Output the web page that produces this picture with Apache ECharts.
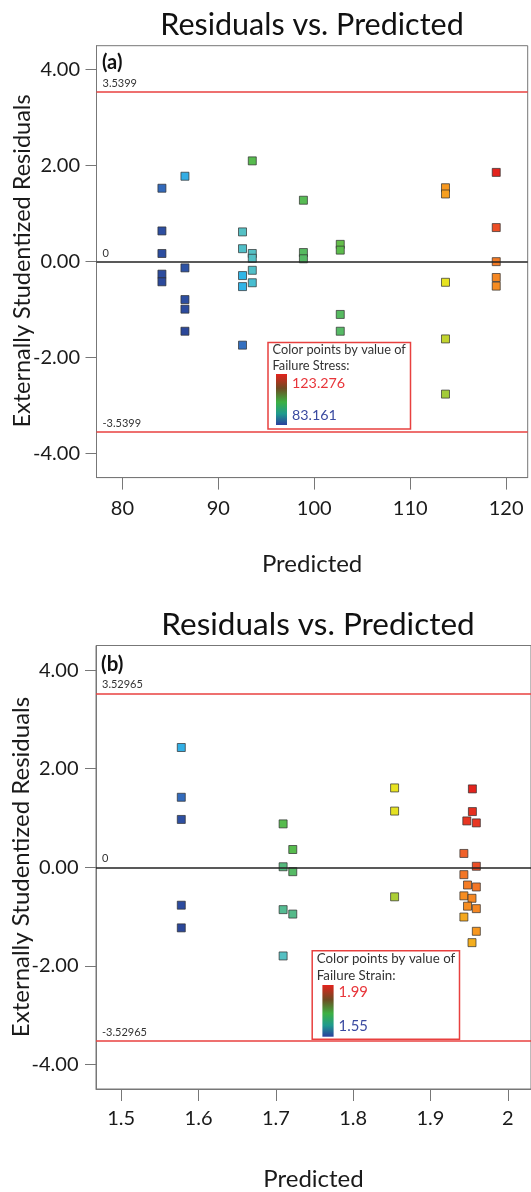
<!DOCTYPE html>
<html><head><meta charset="utf-8">
<script src="https://cdn.jsdelivr.net/npm/echarts@6/dist/echarts.min.js"></script>
<style>html,body{margin:0;padding:0;background:#fff}#c{width:531px;height:1192px}</style>
</head><body><div id="c"></div>
<script>
// ---- tick labels / limits ----
const aXTicks = [80, 90, 100, 110, 120];
const bXTicks = [1.5, 1.6, 1.7, 1.8, 1.9, 2];
const yTicks = [-4, -2, 0, 2, 4];
const aLimit = 3.5399;
const bLimit = 3.52965;
const aColorRange = [83.161, 123.276];
const bColorRange = [1.55, 1.99];

// ---- panel (a): Failure Stress ----
const aPredicted = [84.12,84.12,84.12,84.12,84.12, 86.52,86.52,86.52,86.52,86.52,
  92.52,92.52,92.52,92.52,92.52, 93.54,93.54,93.54,93.54,93.54, 98.87,98.87,98.87,
  102.71,102.71,102.71,102.71, 113.68,113.68,113.68,113.68,113.68, 118.97,118.97,118.97,118.97,118.97];
const aResiduals = [1.53,0.64,0.17,-0.26,-0.42, 1.78,-0.13,-0.79,-0.99,-1.45,
  0.62,0.27,-0.29,-0.52,-1.74, 2.10,0.17,0.07,-0.18,-0.44, 1.28,0.19,0.06,
  0.36,0.24,-1.10,-1.45, 1.54,1.41,-0.43,-1.61,-2.76, 1.86,0.71,0.00,-0.33,-0.51];
const aStress = [87.0,84.0,83.9,83.6,83.4, 92.4,84.5,84.0,83.7,83.2,
  96.5,96.2,93.3,93.0,87.5, 103.2,96.5,96.4,96.2,95.4, 102.8,101.9,101.5,
  103.9,103.5,101.9,101.5, 116.6,116.3,113.2,109.9,107.5, 123.28,120.9,118.3,117.6,117.3];

// ---- panel (b): Failure Strain ----
const bPredicted = [1.5777,1.5777,1.5777,1.5777,1.5777,
  1.7094,1.7094,1.7094,1.7094, 1.7219,1.7219,1.7219,
  1.8536,1.8536,1.8536,
  1.9542,1.9542,1.9470,1.9593,1.9432,1.9593,1.9432,1.9479,1.9593,1.9432,1.9537,1.9479,1.9593,1.9432,1.9593,1.9537];
const bResiduals = [2.43,1.42,0.97,-0.77,-1.23,
  0.88,0.01,-0.86,-1.80, 0.36,-0.09,-0.95,
  1.61,1.14,-0.60,
  1.59,1.13,0.94,0.90,0.28,0.02,-0.15,-0.36,-0.40,-0.58,-0.63,-0.79,-0.84,-1.01,-1.30,-1.53];
const bStrain = [1.653,1.594,1.561,1.556,1.550,
  1.770,1.733,1.722,1.697, 1.770,1.752,1.726,
  1.880,1.876,1.825,
  1.990,1.983,1.979,1.979,1.953,1.964,1.939,1.935,1.939,1.924,1.928,1.924,1.928,1.909,1.917,1.906];

const FONT = 'Lato';
const palette = ['#2b4799','#3162b5','#3b8fd6','#30b6e8','#55c0c4','#55b97c','#57bb4e',
  '#95c83c','#c2d42e','#e8e320','#f7981f','#f0602a','#e3231d'];

function pts(px, py, pc) { return px.map((x, i) => [x, py[i], pc[i]]); }

function xAxisCfg(gi, min, max, ticks, gap, margin) {
  return {
    type: 'value', gridIndex: gi, min: min, max: max,
    splitLine: { show: false },
    axisLine: { show: true, onZero: false, lineStyle: { color: '#777', width: 1 } },
    axisTick: { show: true, length: 12, lineStyle: { color: '#777' }, customValues: ticks },
    axisLabel: { customValues: ticks, margin: margin, fontFamily: FONT, fontSize: 20, color: '#1a1a1a',
      formatter: v => String(v) },
    name: 'Predicted', nameLocation: 'middle', nameGap: gap,
    nameTextStyle: { fontFamily: FONT, fontSize: 24, color: '#1a1a1a' }
  };
}
function yAxisCfg(gi, margin) {
  return {
    type: 'value', gridIndex: gi, min: -4.5, max: 4.5,
    splitLine: { show: false },
    axisLine: { show: true, onZero: false, lineStyle: { color: '#777', width: 1 } },
    axisTick: { show: true, length: 11, lineStyle: { color: '#777' }, customValues: yTicks },
    axisLabel: { customValues: yTicks, margin: margin, fontFamily: FONT, fontSize: 20, color: '#1a1a1a',
      formatter: v => v.toFixed(2) }
  };
}
function limitLines(lim) {
  return {
    silent: true, symbol: 'none', animation: false, precision: 6,
    label: { show: true, position: 'insideStartTop', distance: [6, 3], fontFamily: FONT,
      fontSize: 11, color: '#333', formatter: p => p.name },
    data: [
      { name: String(lim), yAxis: lim, lineStyle: { color: '#e8403f', width: 1.5, type: 'solid' } },
      { name: '0', yAxis: 0, lineStyle: { color: '#222', width: 1.5, type: 'solid' } },
      { name: String(-lim), yAxis: -lim, lineStyle: { color: '#e8403f', width: 1.5, type: 'solid' } }
    ]
  };
}
function scatter(xi, data, lim) {
  return {
    type: 'scatter', xAxisIndex: xi, yAxisIndex: xi, data: data,
    symbol: 'rect', symbolSize: 8,
    itemStyle: { borderColor: 'rgba(45,45,45,0.7)', borderWidth: 1, opacity: 1 },
    markLine: limitLines(lim), z: 2
  };
}
function legendBox(x, y, w, h, title2, hi, lo, fs, barX, barY, barW, barH, l1y, l2y, hiY, loY) {
  const grad = new echarts.graphic.LinearGradient(0, 0, 0, 1, [
    { offset: 0, color: '#e3231d' }, { offset: 0.28, color: '#6e4a22' },
    { offset: 0.55, color: '#3cb043' }, { offset: 0.78, color: '#1f9a8e' },
    { offset: 1, color: '#2a3f9e' }]);
  return [
    { type: 'rect', shape: { x: x, y: y, width: w, height: h },
      style: { fill: 'rgba(255,255,255,0)', stroke: '#e8403f', lineWidth: 1.5 } },
    { type: 'text', x: x + 4.5, y: l1y, style: { text: 'Color points by value of', font: fs + 'px ' + FONT,
      fill: '#333', align: 'left', verticalAlign: 'middle' } },
    { type: 'text', x: x + 4.5, y: l2y, style: { text: title2, font: fs + 'px ' + FONT,
      fill: '#333', align: 'left', verticalAlign: 'middle' } },
    { type: 'rect', shape: { x: barX, y: barY, width: barW, height: barH }, style: { fill: grad } },
    { type: 'text', x: barX + barW + 5, y: hiY, style: { text: hi, font: (fs + 1.5) + 'px ' + FONT,
      fill: '#e8353a', align: 'left', verticalAlign: 'middle' } },
    { type: 'text', x: barX + barW + 5, y: loY, style: { text: lo, font: (fs + 1.5) + 'px ' + FONT,
      fill: '#3a4aa0', align: 'left', verticalAlign: 'middle' } }
  ];
}

const chart = echarts.init(document.getElementById('c'), null, { renderer: 'canvas' });
const graphics = [
  { type: 'text', x: 312, y: 25, style: { text: 'Residuals vs. Predicted', font: '30.5px ' + FONT,
    fill: '#111', align: 'center', verticalAlign: 'middle' } },
  { type: 'text', x: 318, y: 625, style: { text: 'Residuals vs. Predicted', font: '31.5px ' + FONT,
    fill: '#111', align: 'center', verticalAlign: 'middle' } },
  { type: 'text', x: 22, y: 261, rotation: Math.PI / 2, style: { text: 'Externally Studentized Residuals',
    font: '23.5px ' + FONT, fill: '#1a1a1a', align: 'center', verticalAlign: 'middle' } },
  { type: 'text', x: 21, y: 867, rotation: Math.PI / 2, style: { text: 'Externally Studentized Residuals',
    font: '24px ' + FONT, fill: '#1a1a1a', align: 'center', verticalAlign: 'middle' } },
  { type: 'text', x: 102, y: 63, style: { text: '(a)', font: 'bold 20px ' + FONT, fill: '#111',
    align: 'left', verticalAlign: 'middle' } },
  { type: 'text', x: 101, y: 664, style: { text: '(b)', font: 'bold 20.5px ' + FONT, fill: '#111',
    align: 'left', verticalAlign: 'middle' } }
].concat(
  legendBox(268, 342.5, 142.5, 86.5, 'Failure Stress:', '123.276', '83.161', 12.8, 276, 374, 11, 51, 350, 365.5, 383, 415.5),
  legendBox(312.2, 950.7, 147.3, 88.6, 'Failure Strain:', '1.99', '1.55', 13.3, 322.4, 985, 11.2, 51.7, 959, 975.7, 992.7, 1026.7)
);

chart.setOption({
  animation: false,
  backgroundColor: '#fff',
  grid: [
    { left: 96.5, top: 45.7, width: 431.2, height: 431.9, show: true, borderColor: '#777', borderWidth: 1 },
    { left: 96, top: 645.5, width: 443.7, height: 444, show: true, borderColor: '#777', borderWidth: 1 }
  ],
  xAxis: [xAxisCfg(0, 77.3, 122.25, aXTicks, 75, 21), xAxisCfg(1, 1.4674, 2.03, bXTicks, 78, 20)],
  yAxis: [yAxisCfg(0, 16.5), yAxisCfg(1, 17.5)],
  visualMap: [
    { type: 'continuous', show: false, seriesIndex: 0, dimension: 2,
      min: aColorRange[0], max: aColorRange[1], inRange: { color: palette } },
    { type: 'continuous', show: false, seriesIndex: 1, dimension: 2,
      min: bColorRange[0], max: bColorRange[1], inRange: { color: palette } }
  ],
  series: [
    scatter(0, pts(aPredicted, aResiduals, aStress), aLimit),
    scatter(1, pts(bPredicted, bResiduals, bStrain), bLimit)
  ],
  graphic: graphics
});
</script></body></html>
